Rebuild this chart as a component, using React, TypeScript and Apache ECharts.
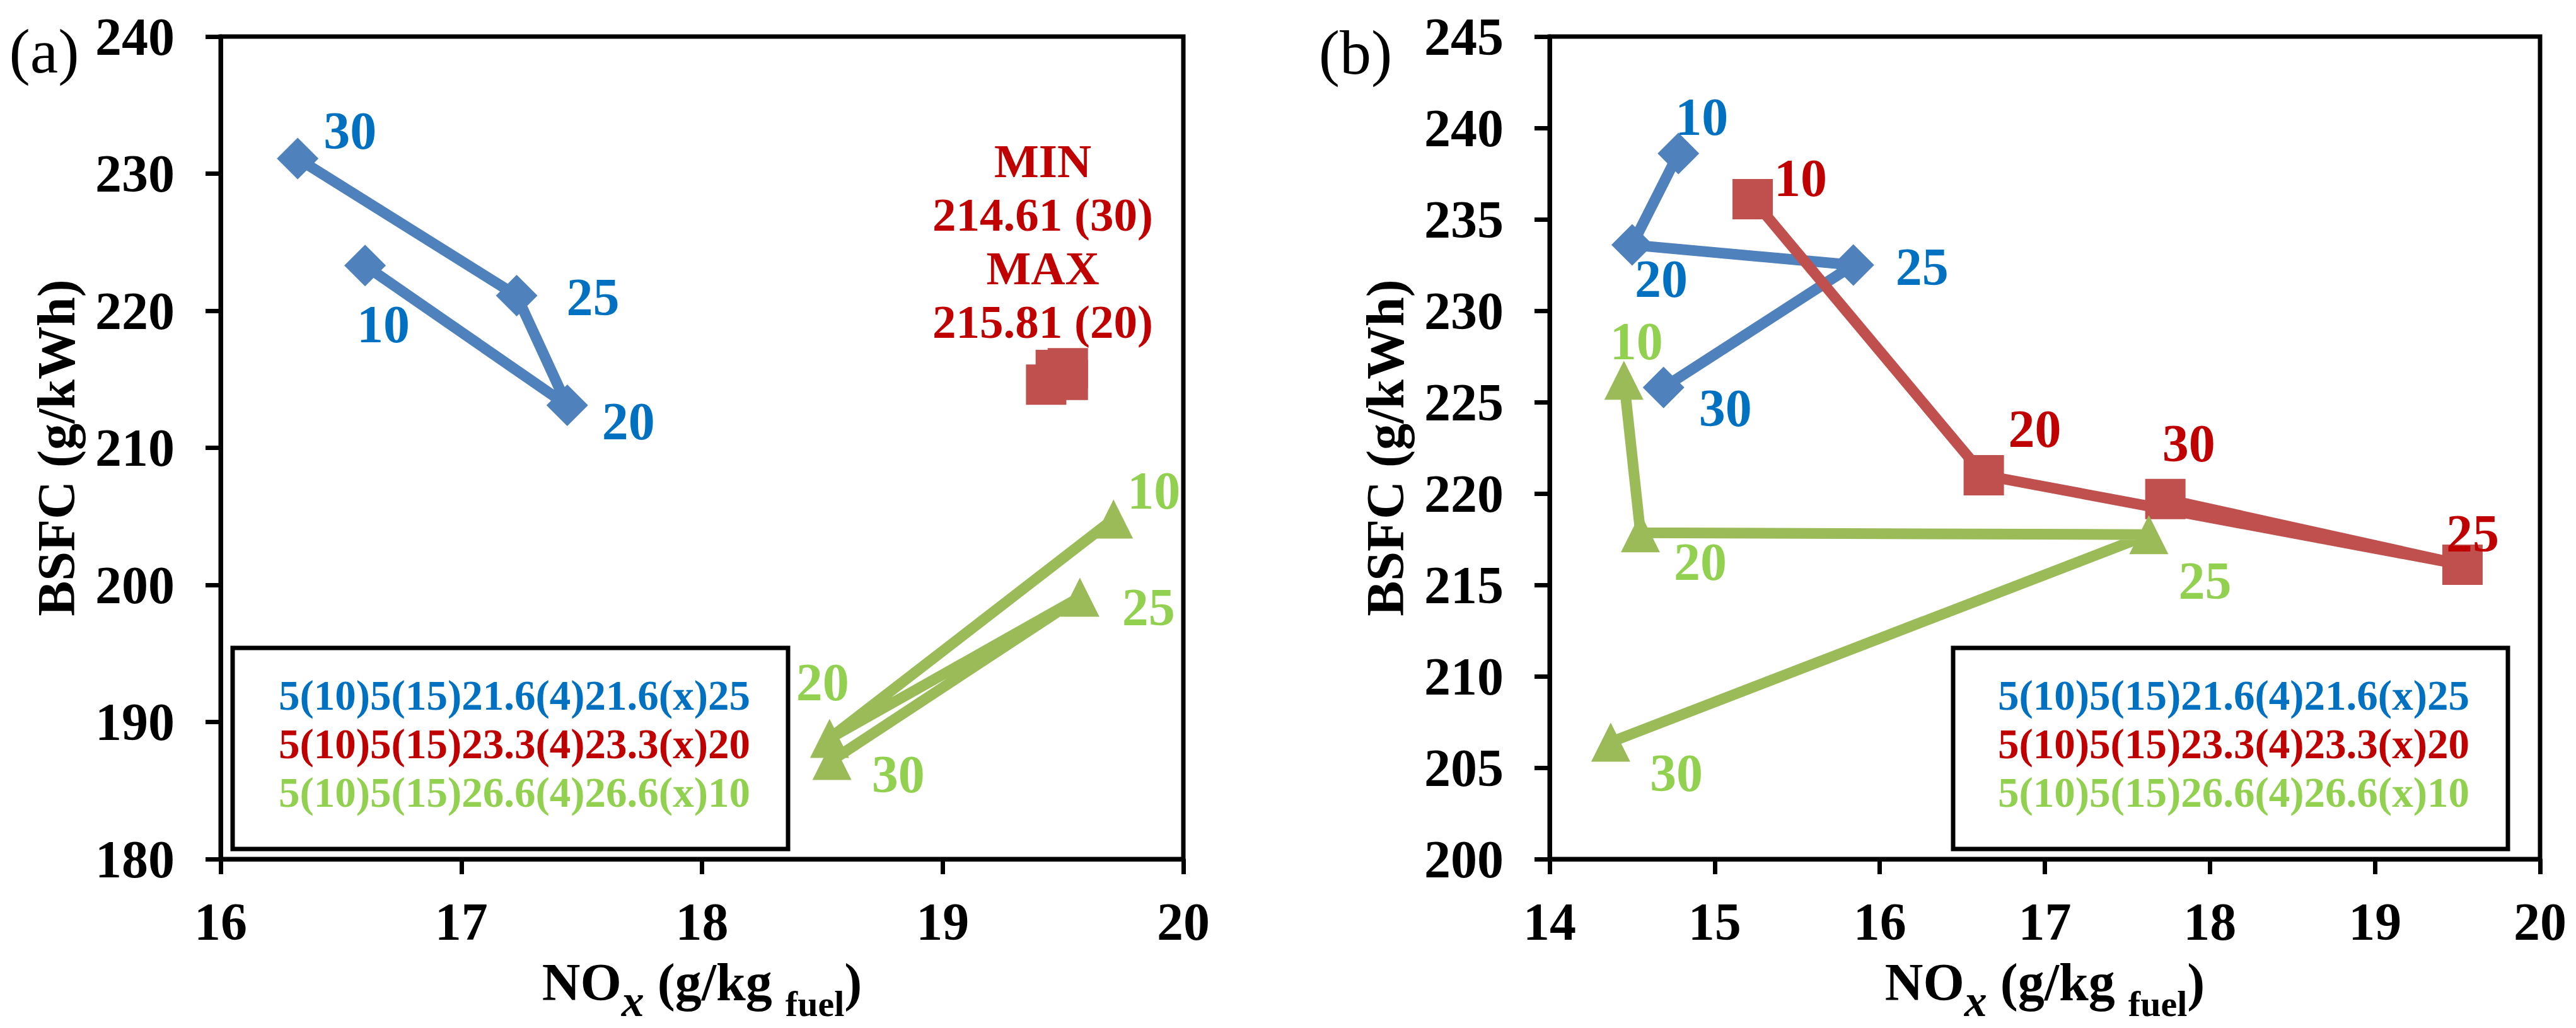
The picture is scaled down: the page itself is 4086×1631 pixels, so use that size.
import React, { useEffect, useRef } from "react";
import * as echarts from "echarts";

// Injection-timing settings, in series order
const SETTINGS = ["10", "20", "25", "30"];

// Panel (a): NOx (g/kg fuel) and BSFC (g/kWh)
const aBlueNox = [16.6, 17.44, 17.23, 16.32];
const aBlueBsfc = [223.3, 213.1, 221.1, 231.1];
const aRedNox = [19.47, 19.52, 19.52, 19.43];
const aRedBsfc = [215.68, 215.81, 214.95, 214.61];
const aGreenNox = [19.71, 18.53, 19.57, 18.54];
const aGreenBsfc = [204.8, 188.8, 199.1, 187.2];

// Panel (b)
const bBlueNox = [14.78, 14.5, 15.84, 14.69];
const bBlueBsfc = [238.6, 233.6, 232.5, 225.8];
const bRedNox = [15.23, 16.63, 19.53, 17.73];
const bRedBsfc = [236.1, 221.0, 216.1, 219.7];
const bGreenNox = [14.45, 14.55, 17.63, 14.37];
const bGreenBsfc = [226.2, 217.85, 217.75, 206.4];

const SERIES_NAMES = [
  "5(10)5(15)21.6(4)21.6(x)25",
  "5(10)5(15)23.3(4)23.3(x)20",
  "5(10)5(15)26.6(4)26.6(x)10",
];

// Axis ranges
const A_X = { min: 16, max: 20, interval: 1 };
const A_Y = { min: 180, max: 240, interval: 10 };
const B_X = { min: 14, max: 20, interval: 1 };
const B_Y = { min: 200, max: 245, interval: 5 };

const FONT = "'Liberation Serif', 'Times New Roman', serif";
const LINE_COLORS = ["#4F81BD", "#C0504D", "#9BBB59"];
const TEXT_COLORS = ["#0070C0", "#C00000", "#92D050"];
const SYMBOLS = ["diamond", "rect", "triangle"];
const SYMBOL_SIZES = [66, 64, 62];

// Plot areas
const GRID_A = { left: 350, top: 58, width: 1527, height: 1305 };
const GRID_B = { left: 2458, top: 58, width: 1571, height: 1305 };

// Label offsets (px) from each marker centre, order 10, 20, 25, 30
const LABEL_OFFSETS: Record<string, number[][] | null> = {
  aBlue: [[29, 93], [97, 25], [121, 2], [83, -44]],
  aRed: null,
  aGreen: [[64, -45], [-11, -89], [109, 16], [105, 22]],
  bBlue: [[37, -58], [46, 54], [109, 3], [98, 33]],
  bRed: [[76, -34], [81, -74], [16, -50], [37, -88]],
  bGreen: [[20, -62], [95, 46], [89, 73], [104, 49]],
};

// x-axis title pieces: [text, font, vertical shift from the main line centre]
const X_TITLE_PARTS: [string, string, number][] = [
  ["NO", `bold 84px ${FONT}`, 0],
  ["x", `italic bold 72px ${FONT}`, 30],
  [" (g/kg ", `bold 84px ${FONT}`, 0],
  ["fuel", `bold 58px ${FONT}`, 34],
  [")", `bold 84px ${FONT}`, 0],
];

function makeSeries(
  key: string,
  idx: number,
  axis: number,
  xs: number[],
  ys: number[]
) {
  const offsets = LABEL_OFFSETS[key];
  return {
    type: "line",
    name: SERIES_NAMES[idx],
    xAxisIndex: axis,
    yAxisIndex: axis,
    symbol: SYMBOLS[idx],
    symbolSize: SYMBOL_SIZES[idx],
    lineStyle: { color: LINE_COLORS[idx], width: 17 },
    itemStyle: { color: LINE_COLORS[idx] },
    z: 2 + idx,
    data: xs.map((x, i) => ({
      value: [x, ys[i]],
      label: offsets
        ? {
            show: true,
            position: "inside",
            offset: offsets[i],
            formatter: SETTINGS[i],
            color: TEXT_COLORS[idx],
            fontFamily: FONT,
            fontWeight: "bold",
            fontSize: 84,
          }
        : { show: false },
    })),
  };
}

function xAxis(gridIndex: number, r: { min: number; max: number; interval: number }) {
  return {
    type: "value",
    gridIndex,
    min: r.min,
    max: r.max,
    interval: r.interval,
    axisLine: { show: true, onZero: false, lineStyle: { color: "#000", width: 7 } },
    axisTick: { show: true, inside: false, length: 24, lineStyle: { color: "#000", width: 7 } },
    axisLabel: { margin: 57, fontFamily: FONT, fontWeight: "bold", fontSize: 84, color: "#000" },
    splitLine: { show: false },
  };
}

function yAxis(gridIndex: number, r: { min: number; max: number; interval: number }) {
  return {
    type: "value",
    gridIndex,
    min: r.min,
    max: r.max,
    interval: r.interval,
    name: "BSFC (g/kWh)",
    nameLocation: "middle",
    nameGap: 219,
    nameTextStyle: { fontFamily: FONT, fontWeight: "bold", fontSize: 84, color: "#000" },
    axisLine: { show: true, onZero: false, lineStyle: { color: "#000", width: 7 } },
    axisTick: { show: true, inside: false, length: 24, lineStyle: { color: "#000", width: 7 } },
    axisLabel: { margin: 73, fontFamily: FONT, fontWeight: "bold", fontSize: 84, color: "#000" },
    splitLine: { show: false },
  };
}

function legendBox(x: number, y: number, w: number, h: number, textCx: number) {
  return {
    type: "group",
    children: [
      {
        type: "rect",
        shape: { x, y, width: w, height: h },
        style: { fill: "none", stroke: "#000", lineWidth: 7 },
      },
      ...SERIES_NAMES.map((name, i) => ({
        type: "text",
        x: textCx,
        y: y + 75 + i * 77,
        style: {
          text: name,
          fill: TEXT_COLORS[i],
          font: `bold 67px ${FONT}`,
          textAlign: "center",
          textVerticalAlign: "middle",
        },
      })),
    ],
  };
}

// NOx title with subscripts, centred under a plot area
function xTitle(grid: { left: number; top: number; width: number; height: number }) {
  const ctx = document.createElement("canvas").getContext("2d");
  const widths = X_TITLE_PARTS.map(([t, f]) => {
    if (!ctx) return t.length * 40;
    ctx.font = f;
    return ctx.measureText(t).width;
  });
  const total = widths.reduce((s, w) => s + w, 0);
  const cy = grid.top + grid.height + 195;
  let x = grid.left + grid.width / 2 - total / 2;
  const children = X_TITLE_PARTS.map(([t, f, dy], i) => {
    const el = {
      type: "text",
      x,
      y: cy + dy,
      style: { text: t, font: f, fill: "#000", textAlign: "left", textVerticalAlign: "middle" },
    };
    x += widths[i];
    return el;
  });
  return { type: "group", children };
}

export default function App() {
  const ref = useRef<HTMLDivElement>(null);

  useEffect(() => {
    document.body.style.margin = "0";
    if (!ref.current) return;
    const chart = echarts.init(ref.current, null, { renderer: "svg" });

    // Extremes of the red series in panel (a)
    let minI = 0;
    let maxI = 0;
    aRedBsfc.forEach((v, i) => {
      if (v < aRedBsfc[minI]) minI = i;
      if (v > aRedBsfc[maxI]) maxI = i;
    });
    const note = [
      "MIN",
      `${aRedBsfc[minI].toFixed(2)} (${SETTINGS[minI]})`,
      "MAX",
      `${aRedBsfc[maxI].toFixed(2)} (${SETTINGS[maxI]})`,
    ].join("\n");

    chart.setOption({
      animation: false,
      backgroundColor: "#fff",
      grid: [
        { ...GRID_A, show: true, borderColor: "#000", borderWidth: 7, containLabel: false },
        { ...GRID_B, show: true, borderColor: "#000", borderWidth: 7, containLabel: false },
      ],
      xAxis: [xAxis(0, A_X), xAxis(1, B_X)],
      yAxis: [yAxis(0, A_Y), yAxis(1, B_Y)],
      series: [
        makeSeries("aBlue", 0, 0, aBlueNox, aBlueBsfc),
        makeSeries("aRed", 1, 0, aRedNox, aRedBsfc),
        makeSeries("aGreen", 2, 0, aGreenNox, aGreenBsfc),
        makeSeries("bBlue", 0, 1, bBlueNox, bBlueBsfc),
        makeSeries("bRed", 1, 1, bRedNox, bRedBsfc),
        makeSeries("bGreen", 2, 1, bGreenNox, bGreenBsfc),
      ],
      graphic: [
        {
          type: "text",
          x: 70,
          y: 81,
          style: { text: "(a)", font: `100px ${FONT}`, fill: "#000", textAlign: "center", textVerticalAlign: "middle" },
        },
        {
          type: "text",
          x: 2150,
          y: 83,
          style: { text: "(b)", font: `100px ${FONT}`, fill: "#000", textAlign: "center", textVerticalAlign: "middle" },
        },
        {
          type: "text",
          x: 1654,
          y: 213,
          style: {
            text: note,
            font: `bold 75px ${FONT}`,
            fill: TEXT_COLORS[1],
            textAlign: "center",
            textVerticalAlign: "top",
            lineHeight: 85,
          },
        },
        legendBox(369, 1028, 881, 319, 816),
        legendBox(3098, 1028, 880, 319, 3543),
        xTitle(GRID_A),
        xTitle(GRID_B),
      ],
    });

    return () => chart.dispose();
  }, []);

  return <div ref={ref} style={{ width: 4086, height: 1631 }} />;
}
